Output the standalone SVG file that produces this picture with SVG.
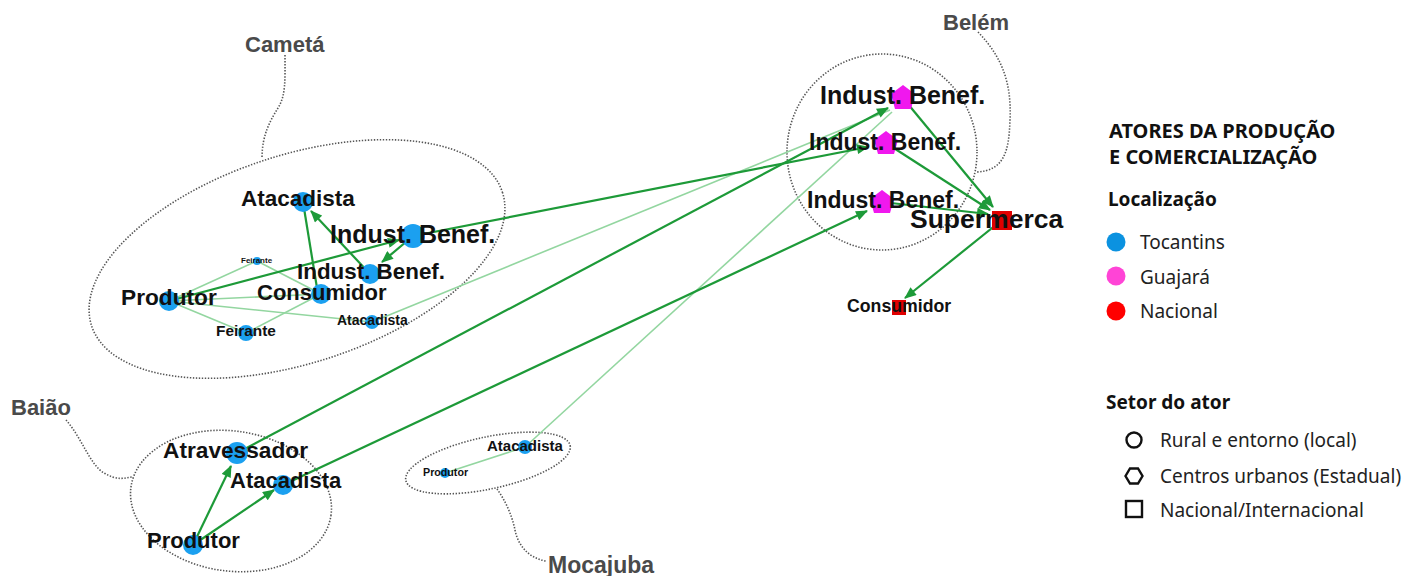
<svg xmlns="http://www.w3.org/2000/svg" width="1408" height="576" viewBox="0 0 1408 576">
<style>
.bg{fill:#ffffff}
.dot{fill:none;stroke:#555;stroke-width:1.6;stroke-dasharray:1.4 1.6}
.region{font-family:"Liberation Sans",Arial,sans-serif;font-weight:bold;fill:#4a4a4a;font-size:22px}
.lbl{font-family:"Liberation Sans",Arial,sans-serif;font-weight:bold;fill:#111}
.dark{stroke:#1d9a38;stroke-width:2.2;fill:none}
.light{stroke:#93d6a0;stroke-width:1.6;fill:none}
.toc{fill:#1ba0f0}
.gua{fill:#f018ee}
.nac{fill:#e00000}
.lh{font-family:"Noto Sans","Open Sans",sans-serif;font-weight:bold;fill:#111;font-size:19px}
.lt{font-family:"Noto Sans","Open Sans",sans-serif;fill:#222;font-size:19px}
.icon{fill:none;stroke:#111;stroke-width:2.4}
</style>
<defs>
<marker id="ah" viewBox="0 0 12 10" refX="11" refY="5" markerWidth="13" markerHeight="10" markerUnits="userSpaceOnUse" orient="auto">
<path d="M0,0 L12,5 L0,10 z" fill="#1d9a38"/>
</marker>
</defs>
<rect class="bg" x="0" y="0" width="1408" height="576"/>

<g id="regions">
<ellipse class="dot" cx="297" cy="259" rx="216" ry="104" transform="rotate(-18 297 259)"/>
<path class="dot" d="M285,55 C285,80 286,95 278,108 S262,135 262,158"/>
<text class="region" x="245" y="52">Cametá</text>
<ellipse class="dot" cx="882" cy="152" rx="95" ry="98"/>
<path class="dot" d="M978,32 C1000,55 1012,80 1010,120 C1009,150 1005,171 976,172"/>
<text class="region" x="943" y="30">Belém</text>
<ellipse class="dot" cx="231" cy="501" rx="101" ry="70" transform="rotate(8 231 501)"/>
<path class="dot" d="M66,420 C82,438 90,465 104,473 S124,478 132,477"/>
<text class="region" x="11" y="415">Baião</text>
<ellipse class="dot" cx="488" cy="463" rx="84" ry="26" transform="rotate(-12 488 463)"/>
<path class="dot" d="M497,489 C505,500 512,515 515,530 S528,558 546,561"/>
<text class="region" x="548" y="573" style="font-size:23px">Mocajuba</text>
</g>

<g id="connectors">
<line class="light" x1="169" y1="301" x2="257" y2="261"/>
<line class="light" x1="169" y1="301" x2="321" y2="294"/>
<line class="light" x1="169" y1="301" x2="246" y2="333"/>
<line class="light" x1="169" y1="301" x2="372" y2="322"/>
<line class="light" x1="246" y1="333" x2="321" y2="294"/>
<line class="light" x1="257" y1="261" x2="321" y2="294"/>
<line class="light" x1="372" y1="322" x2="890" y2="110"/>
<line class="light" x1="445" y1="473" x2="525" y2="447"/>
<line class="light" x1="525" y1="447" x2="892" y2="112"/>
<line class="dark" x1="169" y1="301" x2="399" y2="240" marker-end="url(#ah)"/>
<line class="dark" x1="370" y1="274" x2="311" y2="211" marker-end="url(#ah)"/>
<line class="dark" x1="413" y1="236" x2="382" y2="262" marker-end="url(#ah)"/>
<line class="dark" x1="303" y1="202" x2="317" y2="288"/>
<line class="dark" x1="413" y1="236" x2="868" y2="147" marker-end="url(#ah)"/>
<line class="dark" x1="193" y1="545" x2="231" y2="466" marker-end="url(#ah)"/>
<line class="dark" x1="193" y1="545" x2="274" y2="490" marker-end="url(#ah)"/>
<line class="dark" x1="237" y1="453" x2="888" y2="108" marker-end="url(#ah)"/>
<line class="dark" x1="283" y1="485" x2="867" y2="211" marker-end="url(#ah)"/>
<line class="dark" x1="903" y1="98" x2="993" y2="207" marker-end="url(#ah)"/>
<line class="dark" x1="886" y1="143" x2="990" y2="210" marker-end="url(#ah)"/>
<line class="dark" x1="882" y1="202" x2="988" y2="214" marker-end="url(#ah)"/>
<line class="dark" x1="1002" y1="220" x2="905" y2="298" marker-end="url(#ah)"/>
</g>

<g id="cameta-atacadista"><circle class="toc" cx="303" cy="202" r="10"/><text class="lbl" x="241" y="206" style="font-size:22.5px">Atacadista</text></g>
<g id="cameta-indust1"><circle class="toc" cx="413" cy="236" r="12"/><text class="lbl" x="330" y="243" style="font-size:25px">Indust. Benef.</text></g>
<g id="cameta-indust2"><circle class="toc" cx="370" cy="274" r="10"/><text class="lbl" x="297" y="279" style="font-size:22.4px">Indust. Benef.</text></g>
<g id="cameta-consumidor"><circle class="toc" cx="321" cy="294" r="10"/><text class="lbl" x="257" y="300" style="font-size:22px">Consumidor</text></g>
<g id="cameta-produtor"><circle class="toc" cx="169" cy="301" r="10"/><text class="lbl" x="121" y="305" style="font-size:22.7px">Produtor</text></g>
<g id="cameta-feirante-small"><circle class="toc" cx="257" cy="261" r="4"/><text class="lbl" x="241" y="263" style="font-size:8px">Feirante</text></g>
<g id="cameta-feirante"><circle class="toc" cx="246" cy="333" r="8"/><text class="lbl" x="216" y="336" style="font-size:15.4px">Feirante</text></g>
<g id="cameta-atacadista-small"><circle class="toc" cx="372" cy="322" r="7"/><text class="lbl" x="337" y="325" style="font-size:14px">Atacadista</text></g>

<g id="belem-indust1"><polygon class="gua" points="903,85 915,94 911,109 895,109 891,94"/><text class="lbl" x="820" y="104" style="font-size:25px">Indust. Benef.</text></g>
<g id="belem-indust2"><polygon class="gua" points="886,131 898,140 894,154 878,154 874,140"/><text class="lbl" x="809" y="150" style="font-size:23px">Indust. Benef.</text></g>
<g id="belem-indust3"><polygon class="gua" points="882,190 894,199 890,213 874,213 870,199"/><text class="lbl" x="807" y="208" style="font-size:23px">Indust. Benef.</text></g>
<g id="belem-supermerca"><rect class="nac" x="992" y="211" width="20" height="19"/><text class="lbl" x="910" y="228" style="font-size:26.5px">Supermerca</text></g>
<g id="belem-consumidor"><rect class="nac" x="892" y="300" width="14" height="15"/><text class="lbl" x="847" y="312" style="font-size:17.7px">Consumidor</text></g>

<g id="baiao-atravessador"><circle class="toc" cx="237" cy="453" r="11"/><text class="lbl" x="163" y="458" style="font-size:22.7px">Atravessador</text></g>
<g id="baiao-atacadista"><circle class="toc" cx="283" cy="485" r="10"/><text class="lbl" x="230" y="488" style="font-size:22px">Atacadista</text></g>
<g id="baiao-produtor"><circle class="toc" cx="193" cy="545" r="10"/><text class="lbl" x="147" y="548" style="font-size:22px">Produtor</text></g>

<g id="mocajuba-atacadista"><circle class="toc" cx="525" cy="447" r="7"/><text class="lbl" x="487" y="451" style="font-size:15px">Atacadista</text></g>
<g id="mocajuba-produtor"><circle class="toc" cx="445" cy="473" r="5"/><text class="lbl" x="423" y="476" style="font-size:10.7px">Produtor</text></g>

<g id="legend">
<text class="lh" x="1109" y="138" style="font-size:20px">ATORES DA PRODUÇÃO</text>
<text class="lh" x="1109" y="164" style="font-size:20px">E COMERCIALIZAÇÃO</text>
<text class="lh" x="1108" y="206">Localização</text>
<circle cx="1116" cy="242" r="9.5" fill="#0b92e0"/>
<text class="lt" x="1140" y="249">Tocantins</text>
<circle cx="1116" cy="276" r="9.5" fill="#ff44d6"/>
<text class="lt" x="1140" y="284">Guajará</text>
<circle cx="1116" cy="311" r="9.5" fill="#ff0000"/>
<text class="lt" x="1140" y="318">Nacional</text>
<text class="lh" x="1106" y="409">Setor do ator</text>
<circle class="icon" cx="1134" cy="440" r="7.5"/>
<text class="lt" x="1160" y="447">Rural e entorno (local)</text>
<polygon class="icon" points="1125.5,476 1130,468.5 1138,468.5 1142.5,476 1138,483.5 1130,483.5"/>
<text class="lt" x="1160" y="483">Centros urbanos (Estadual)</text>
<rect class="icon" x="1126" y="501" width="16" height="16"/>
<text class="lt" x="1160" y="517">Nacional/Internacional</text>
</g>
</svg>
